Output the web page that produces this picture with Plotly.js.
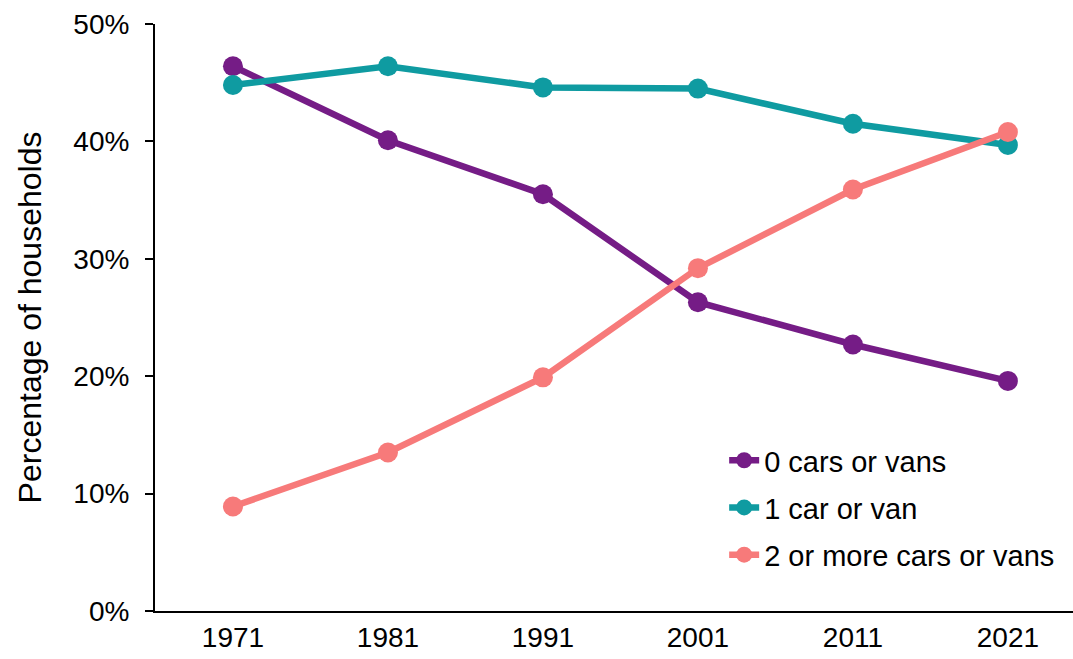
<!DOCTYPE html>
<html>
<head>
<meta charset="utf-8">
<script src="https://cdn.plot.ly/plotly-3.0.1.min.js"></script>
<style>html,body{margin:0;padding:0;background:#fff;}#chart{width:1073px;height:659px;}</style>
</head>
<body>
<div id="chart"></div>
<script>
const years = ["1971", "1981", "1991", "2001", "2011", "2021"];
const zeroCars = [46.4, 40.1, 35.5, 26.3, 22.7, 19.6];
const oneCar = [44.8, 46.4, 44.6, 44.5, 41.5, 39.7];
const twoPlusCars = [8.9, 13.5, 19.9, 29.2, 35.9, 40.8];
const seriesNames = ["0 cars or vans", "1 car or van", "2 or more cars or vans"];
const colors = ["#751c86", "#0f9ba1", "#f77a7a"];

const font = "Arial, 'Liberation Sans', sans-serif";
function mk(vals, i) {
  return {
    x: years, y: vals, name: seriesNames[i], type: "scatter", mode: "lines+markers",
    legendgroup: "g" + i,
    line: {color: colors[i], width: 6.5},
    marker: {color: colors[i], size: 20},
    cliponaxis: false
  };
}
const data = [mk(zeroCars, 0), mk(oneCar, 1), mk(twoPlusCars, 2)];
const layout = {
  width: 1073, height: 659,
  margin: {l: 155, r: 0, t: 24, b: 48},
  paper_bgcolor: "#fff", plot_bgcolor: "#fff",
  font: {family: font, size: 28, color: "#000"},
  showlegend: true,
  legend: {x: 0.62, y: 0.30, xanchor: "left", yanchor: "top", bgcolor: "rgba(0,0,0,0)",
    font: {size: 29}, tracegroupgap: 6.5, itemwidth: 30},
  xaxis: {
    type: "category", range: [-0.503, 5.42], showgrid: false, zeroline: false,
    showline: true, linecolor: "#000", linewidth: 2, ticks: "", tickfont: {size: 28}
  },
  yaxis: {
    range: [0, 50], dtick: 10, ticksuffix: "%", showgrid: false, zeroline: false,
    showline: true, linecolor: "#000", linewidth: 2, ticks: "outside", ticklen: 8, tickwidth: 2, tickcolor: "#000",
    tickfont: {size: 28}, ticklabelstandoff: 10,
    title: {text: "Percentage of households", font: {size: 32}, standoff: 22}
  }
};
Plotly.newPlot("chart", data, layout, {displayModeBar: false, staticPlot: true});
</script>
</body>
</html>
